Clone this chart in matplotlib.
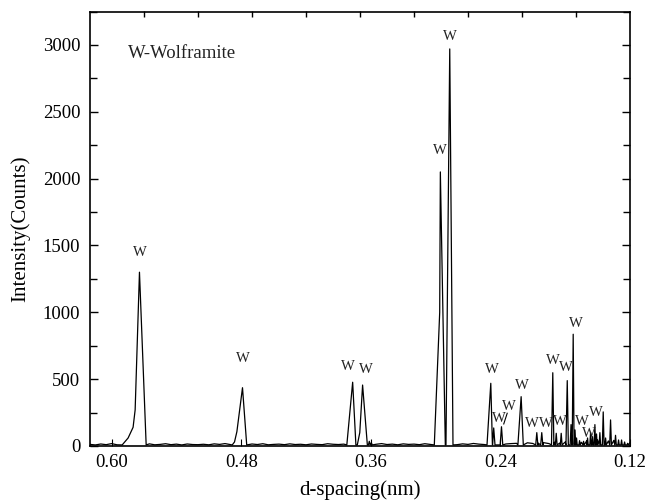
import numpy as np
import matplotlib
matplotlib.use("Agg")
import matplotlib.pyplot as plt
from matplotlib.ticker import MultipleLocator

plt.rcParams['font.family'] = ['Liberation Serif', 'DejaVu Serif']

# peaks: centre d (nm), height (counts), base half-widths (nm)
peak_d = [0.5742, 0.4788, 0.3768, 0.3676, 0.3614, 0.3595, 0.2956, 0.2869,
          0.2489, 0.2462, 0.2390, 0.2208, 0.2063, 0.2017, 0.1915, 0.1883,
          0.1837, 0.1781, 0.1746, 0.1726, 0.1709, 0.1695, 0.1667, 0.1630,
          0.1593, 0.1565, 0.1547, 0.1525, 0.1510, 0.1479, 0.1448, 0.1426,
          0.1380, 0.1334, 0.1306, 0.1278, 0.1250, 0.1222]
peak_h = [1300, 436, 477, 456, 35, 25, 2050, 2970,
          469, 135, 144, 369, 100, 100, 548, 95,
          95, 489, 160, 836, 120, 60, 40, 35,
          60, 100, 70, 160, 90, 100, 255, 60,
          195, 80, 45, 45, 30, 20]
peak_wl = [0.0160, 0.0095, 0.0054, 0.0049, 0.0008, 0.0008, 0.0056, 0.0035,
           0.0035, 0.0010, 0.0012, 0.0030, 0.0010, 0.0010, 0.0012, 0.0008,
           0.0008, 0.0012, 0.0008, 0.0009, 0.0007, 0.0006, 0.0006, 0.0006,
           0.0006, 0.0007, 0.0006, 0.0007, 0.0006, 0.0007, 0.0008, 0.0006,
           0.0008, 0.0007, 0.0006, 0.0006, 0.0006, 0.0006]
peak_wr = [0.0062, 0.0039, 0.0030, 0.0044, 0.0008, 0.0008, 0.0046, 0.0030,
           0.0015, 0.0012, 0.0012, 0.0020, 0.0010, 0.0010, 0.0010, 0.0008,
           0.0008, 0.0010, 0.0007, 0.0008, 0.0006, 0.0006, 0.0006, 0.0006,
           0.0006, 0.0006, 0.0006, 0.0006, 0.0006, 0.0007, 0.0008, 0.0006,
           0.0008, 0.0007, 0.0006, 0.0006, 0.0006, 0.0006]

# shoulders on the flanks of some peaks
shoulder_d = [0.5847, 0.5801, 0.5782, 0.4862, 0.4840, 0.3702, 0.2962]
shoulder_h = [60, 140, 270, 30, 107, 100, 1000]

# background counts, every 0.005 nm from 0.620 to 0.120
baseline_counts = [
    12, 8, 15, 10, 18, 9, 14, 11, 20, 10,
    13, 16, 9, 12, 17, 10, 14, 8, 15, 11,
    10, 13, 9, 16, 12, 18, 10, 14, 9, 13,
    15, 11, 17, 9, 12, 14, 10, 16, 11, 13,
    9, 15, 12, 10, 17, 13, 11, 14, 9, 16,
    12, 10, 15, 13, 18, 11, 14, 9, 16, 12,
    14, 10, 17, 12, 15, 11, 13, 18, 10, 16,
    12, 19, 14, 11, 17, 13, 22, 15, 18, 20,
    16, 24, 19, 21, 25, 18, 28, 22, 30, 26,
    35, 28, 40, 32, 45, 30, 38, 42, 35, 28, 25,
]
baseline_d = np.linspace(0.62, 0.12, len(baseline_counts))

# "W" labels (d, counts)
label_d = [0.5736, 0.4781, 0.3808, 0.3650, 0.2965, 0.2872, 0.2483, 0.2418,
           0.2325, 0.2200, 0.2110, 0.1978, 0.1918, 0.1853, 0.1797, 0.1704,
           0.1644, 0.1519, 0.1579]
label_h = [1444, 658, 598, 569, 2207, 3060, 569, 209,
           292, 456, 172, 172, 636, 180, 584, 920,
           180, 247, 97]
pointer_d = [0.2337, 0.2369]
pointer_h = [245, 165]

foot = 8
verts = []
for d, h, wl, wr in zip(peak_d, peak_h, peak_wl, peak_wr):
    verts += [(d + wl, foot), (d, h), (d - wr, foot)]
verts += list(zip(shoulder_d, shoulder_h))
for d, c in zip(baseline_d, baseline_counts):
    inside = any((d <= p + wl) and (d >= p - wr)
                 for p, wl, wr in zip(peak_d, peak_wl, peak_wr))
    if not inside:
        verts.append((d, c))
verts.sort(key=lambda v: -v[0])
trace = np.array(verts)

fig = plt.figure(figsize=(6.46, 5.0), dpi=100)
ax = fig.add_axes([90/646, 1 - 446/500, 540/646, 434.5/500])

ax.plot(trace[:, 0], trace[:, 1], color='black', lw=0.9)

for d, h in zip(label_d, label_h):
    ax.text(d, h, 'W', ha='center', va='center', fontsize=10.5, color='#222222')
ax.plot(pointer_d, pointer_h, color='black', lw=0.8)

ax.text(0.07, 0.904, 'W-Wolframite', transform=ax.transAxes,
        ha='left', va='center', fontsize=13.5, color='#222222')

ax.set_xlim(0.62, 0.12)
ax.set_ylim(0, 3250)
ax.set_xticks([0.60, 0.48, 0.36, 0.24, 0.12])
ax.set_xticklabels(['0.60', '0.48', '0.36', '0.24', '0.12'])
ax.yaxis.set_major_locator(MultipleLocator(500))
ax.yaxis.set_minor_locator(MultipleLocator(250))

ax.tick_params(axis='y', which='both', direction='in', right=True,
               labelsize=13.5, pad=7)
ax.tick_params(axis='y', which='major', length=6, width=1)
ax.tick_params(axis='y', which='minor', length=5, width=1)
ax.tick_params(axis='x', which='both', direction='in', length=5,
               labelsize=13.5, pad=6)

top = ax.secondary_xaxis('top')
top.set_xticks([0.57, 0.52, 0.47, 0.42, 0.37, 0.32, 0.27, 0.22, 0.17])
top.set_xticklabels([])
top.tick_params(direction='in', length=4, width=1)
top.spines['top'].set_visible(False)

for s in ax.spines.values():
    s.set_linewidth(1.2)

ax.set_xlabel('d-spacing(nm)', fontsize=15)
ax.set_ylabel('Intensity(Counts)', fontsize=15)
ax.xaxis.set_label_coords(0.5, -0.078)
ax.yaxis.set_label_coords(-0.11, 0.5)

fig.savefig('out.png', dpi=100)
